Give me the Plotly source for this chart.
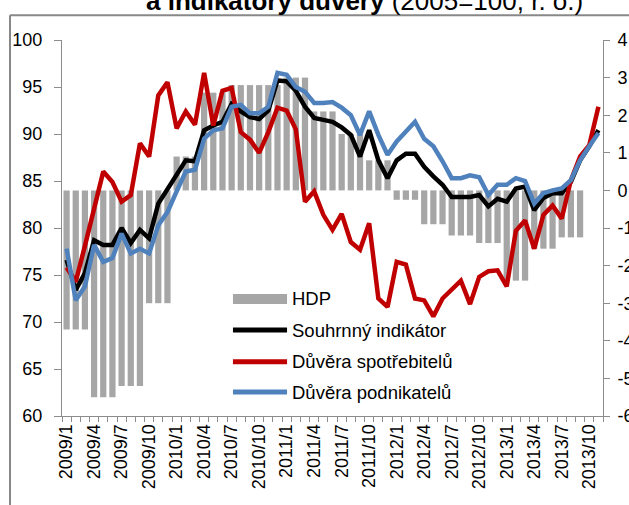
import plotly.graph_objects as go

months = [f"{y}/{m}" for y in range(2009, 2014) for m in range(1, 13)][:59]

# GDP y/y (%), quarterly, repeated for each month of the quarter
hdp_quarterly = [-3.7, -5.5, -5.2, -3.0, 0.9, 2.6, 2.8, 2.8,
                 3.0, 2.1, 1.5, 0.8, -0.25, -0.9, -1.2, -1.4,
                 -2.4, -1.55, -1.25]
hdp = [v for v in hdp_quarterly for _ in range(3)] + [None, None]

souhrnny = [76.6, 73.4, 75.2, 78.7, 78.2, 78.2, 80.0, 78.4, 79.8, 78.9,
            82.6, 84.2, 85.6, 87.2, 87.1, 90.4, 90.9, 91.3, 93.2, 92.4,
            91.8, 91.6, 92.5, 95.7, 95.6, 94.6, 92.9, 91.7, 91.5, 91.3,
            90.7, 89.9, 87.6, 90.4, 87.2, 85.3, 87.2, 87.9, 87.9, 86.5,
            85.5, 84.6, 83.3, 83.3, 83.3, 83.5, 82.3, 83.1, 82.8, 84.2,
            84.4, 81.9, 83.2, 83.7, 83.7, 84.9, 87.2, 88.7, 90.4]

spotrebitele = [75.8, 74.3, 78.1, 82.1, 86.0, 84.9, 82.8, 83.5, 89.0, 87.6,
                94.1, 95.5, 90.6, 92.4, 91.0, 96.5, 90.9, 94.6, 94.9, 90.2,
                89.4, 88.0, 90.2, 92.8, 92.5, 90.5, 82.8, 83.9, 81.4, 79.8,
                81.5, 78.5, 77.7, 80.5, 72.5, 71.6, 76.4, 76.1, 72.5, 72.3,
                70.6, 72.5, 73.4, 74.4, 71.9, 74.8, 75.4, 75.5, 73.8, 79.7,
                80.8, 77.8, 81.4, 82.4, 81.0, 85.1, 87.6, 88.8, 92.9]

podnikatele = [77.8, 72.3, 73.8, 78.2, 76.4, 76.8, 79.4, 77.3, 77.8, 77.3,
               80.3, 81.7, 83.9, 86.0, 86.2, 89.5, 90.4, 90.6, 92.9, 93.1,
               92.2, 92.2, 92.9, 96.5, 96.3, 95.0, 94.5, 93.3, 93.3, 93.4,
               92.8, 92.0, 89.9, 92.4, 89.9, 87.8, 89.2, 90.2, 91.3, 89.5,
               88.7, 87.1, 85.3, 85.3, 85.6, 85.4, 83.5, 84.6, 84.6, 85.3,
               85.0, 82.6, 83.7, 84.0, 84.2, 85.1, 87.2, 88.7, 90.1]

left_ticks = [60, 65, 70, 75, 80, 85, 90, 95, 100]
right_ticks = [-6, -5, -4, -3, -2, -1, 0, 1, 2, 3, 4]
right_ticktext = ["-6", "-5", "-4", "-3", "-2", "-1", "0", "1", "2", "3", "4"]
x_ticktext = [m if i % 3 == 0 else "" for i, m in enumerate(months)]

series_names = ["HDP", "Souhrnný indikátor", "Důvěra spotřebitelů", "Důvěra podnikatelů"]
series_colors = ["#a6a6a6", "#000000", "#c00000", "#4f81bd"]

FONT = "Arial, Liberation Sans, sans-serif"
AXIS_COL = "#8c8c8c"

fig = go.Figure()

fig.add_trace(go.Bar(x=months, y=hdp, name=series_names[0],
                     marker_color=series_colors[0], marker_line_width=0,
                     yaxis="y"))
for name, col, vals in zip(series_names[1:], series_colors[1:],
                           [souhrnny, spotrebitele, podnikatele]):
    fig.add_trace(go.Scatter(x=months, y=vals, name=name, mode="lines",
                             line=dict(color=col, width=4.5), yaxis="y2"))

fig.update_layout(
    width=629, height=505,
    margin=dict(l=62, r=26, t=40, b=89),
    paper_bgcolor="white", plot_bgcolor="white",
    font=dict(family=FONT, color="#000000"),
    bargap=0.32,
    showlegend=False,
    xaxis=dict(type="category", range=[-0.5, 58.5],
               tickmode="array", tickvals=months, ticktext=x_ticktext,
               tickson="boundaries", ticks="outside", ticklen=5,
               tickcolor=AXIS_COL, tickangle=-90,
               tickfont=dict(size=18, family=FONT),
               showline=True, linecolor=AXIS_COL, linewidth=1,
               showgrid=False, zeroline=False, automargin=False),
    yaxis=dict(range=[-6, 4], side="right", tickmode="array",
               tickvals=right_ticks, ticktext=right_ticktext,
               ticks="outside", ticklen=6, tickcolor=AXIS_COL,
               ticklabelstandoff=4,
               tickfont=dict(size=18, family=FONT),
               showline=True, linecolor=AXIS_COL, linewidth=1,
               showgrid=False, zeroline=False, automargin=False),
    yaxis2=dict(range=[60, 100], side="left", overlaying="y",
                tickmode="array", tickvals=left_ticks,
                ticks="outside", ticklen=7, tickcolor=AXIS_COL,
                ticklabelstandoff=8,
                tickfont=dict(size=18, family=FONT),
                showline=True, linecolor=AXIS_COL, linewidth=1,
                showgrid=False, zeroline=False, automargin=False),
)

# manual legend (wide symbols as in the original)
leg_x0, leg_x1, leg_tx = 0.316, 0.416, 0.4214
leg_y = [0.3112, 0.2287, 0.1444, 0.0638]
fig.add_shape(type="rect", xref="paper", yref="paper",
              x0=leg_x0, x1=leg_x1, y0=leg_y[0] - 0.0133, y1=leg_y[0] + 0.0133,
              fillcolor=series_colors[0], line_width=0)
for yy, col in zip(leg_y[1:], series_colors[1:]):
    fig.add_shape(type="line", xref="paper", yref="paper",
                  x0=leg_x0, x1=leg_x1, y0=yy, y1=yy,
                  line=dict(color=col, width=5))
for yy, name in zip(leg_y, series_names):
    fig.add_annotation(xref="paper", yref="paper", x=leg_tx, y=yy,
                       xanchor="left", yanchor="middle", showarrow=False,
                       text=name, font=dict(size=18.5, family=FONT, color="#000000"))

# frame around the chart
fig.add_shape(type="line", xref="paper", yref="paper",
              x0=-0.0961, x1=-0.0961, y0=-0.3, y1=1.066,
              line=dict(color="#888888", width=2))
fig.add_shape(type="line", xref="paper", yref="paper",
              x0=-0.0961, x1=1.1, y0=1.066, y1=1.066,
              line=dict(color="#888888", width=2))

fig.add_annotation(xref="paper", yref="paper", x=0.559, y=1.1027,
                   xanchor="center", yanchor="middle", showarrow=False,
                   text="<b>a indikátory důvěry</b> (2005=100, r. o.)",
                   font=dict(size=26, family=FONT, color="#000000"))

fig.write_html("out.html", config={"displayModeBar": False},
               post_script="document.body.style.margin='0px';")
